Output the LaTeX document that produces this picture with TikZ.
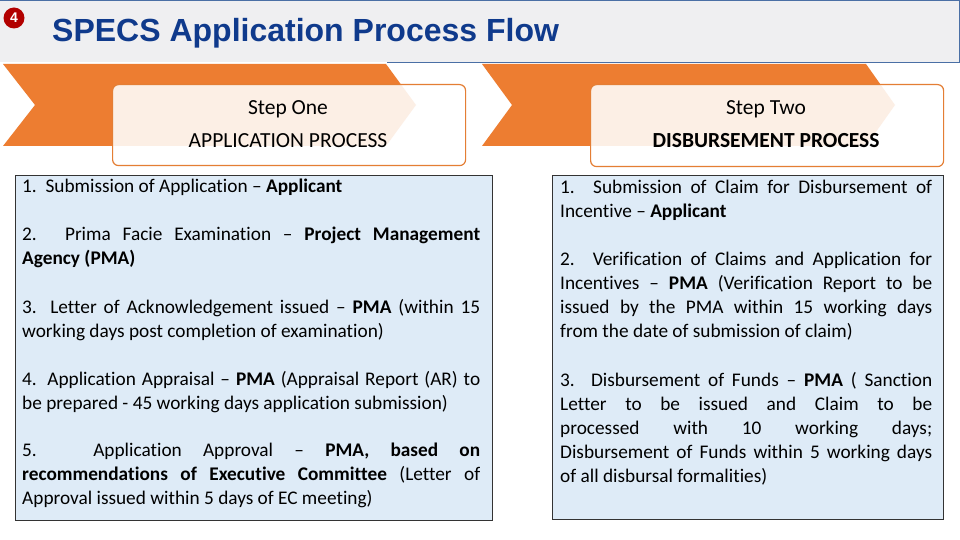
\documentclass[tikz,border=0pt]{standalone}
\usepackage{fontspec}
\setmainfont{Carlito}[Ligatures=NoCommon]
\newfontfamily\arialf{Liberation Sans}
\newlanguage\nohyphlang
\newcommand\itemsetup{\fontsize{19.3}{24}\selectfont\language\nohyphlang\hyphenpenalty=10000\relax\tolerance=9999\relax\emergencystretch=20pt\relax\hbadness=10000\relax\hfuzz=30pt\relax}
\definecolor{orng}{HTML}{ED7D31}
\definecolor{lblue}{HTML}{DEEBF7}
\definecolor{ttl}{HTML}{0F3A8C}
\definecolor{hdr}{HTML}{EFEFF1}
\definecolor{lineb}{HTML}{4A6FA5}
\tikzset{
  chev/.style={fill=orng, draw=none},
  stepbox/.style={draw=orng!80!brown, line width=1.2pt, rounded corners=6pt, fill=white, fill opacity=0.88},
  listbox/.style={draw=black!80, line width=0.8pt, fill=lblue},
  item/.style={anchor=north west, inner sep=0pt, align=justify, font=\itemsetup},
  steptxt/.style={font=\fontsize{21.5}{21.5}\selectfont},
}
\begin{document}
\begin{tikzpicture}[x=1pt,y=-1pt]
\useasboundingbox (0,0) rectangle (960,540);
\fill[white] (0,0) rectangle (960,540);
% header
\fill[hdr] (0,0) rectangle (960,62);
\draw[lineb, line width=0.8pt] (0,0.5) -- (959.5,0.5) -- (959.5,62) -- (387,62);
\node[circle, fill=red!70!black, minimum size=21pt, inner sep=0pt, text=white, font=\arialf\bfseries\fontsize{14}{14}\selectfont] (badge) at (14,18) {4};
\node[anchor=west, text=ttl, inner sep=0pt, font=\arialf\bfseries\fontsize{32}{32}\selectfont] (title) at (52,33) {SPECS Application Process Flow};
% chevrons
\path[chev] (3,64) -- (386,64) -- (416,105) -- (386,146) -- (3,146) -- (35,105) -- cycle;
\path[chev] (482,64) -- (866,64) -- (895,105) -- (866,146) -- (482,146) -- (512,105) -- cycle;
\node[stepbox, minimum width=353pt, minimum height=81pt, anchor=north west] (s1) at (112,84) {};
\node[stepbox, minimum width=353pt, minimum height=82pt, anchor=north west] (s2) at (590,84) {};
\node[steptxt] (s1a) at (288,109) {Step One};
\node[steptxt] (s1b) at (288,141) {APPLICATION PROCESS};
\node[steptxt] (s2a) at (766,109) {Step Two};
\node[steptxt] (s2b) at (766,141) {\bfseries DISBURSEMENT PROCESS};
% list boxes
\node[listbox, minimum width=477pt, minimum height=345pt, anchor=north west] (L) at (15,175) {};
\node[listbox, minimum width=391pt, minimum height=344pt, anchor=north west] (R) at (552,175) {};
\node[item, text width=458pt] (l1) at (22,179) {1.\ \ Submission of Application -- \textbf{Applicant}};
\node[item, text width=458pt] (l2) at (22,227) {2. Prima Facie Examination -- \textbf{Project Management\linebreak Agency (PMA)}};
\node[item, text width=458pt] (l3) at (22,299) {3. Letter of Acknowledgement issued -- \textbf{PMA} (within 15\linebreak working days post completion of examination)};
\node[item, text width=458pt] (l4) at (22,371) {4. Application Appraisal -- \textbf{PMA} (Appraisal Report (AR) to\linebreak be prepared - 45 working days application submission)};
\node[item, text width=458pt] (l5) at (22,443) {5. Application Approval -- \textbf{PMA, based on\linebreak recommendations of Executive Committee} (Letter of\linebreak Approval issued within 5 days of EC meeting)};
\node[item, text width=372pt] (r1) at (560,180) {1. Submission of Claim for Disbursement of\linebreak Incentive -- \textbf{Applicant}};
\node[item, text width=372pt] (r2) at (560,252) {2. Verification of Claims and Application for\linebreak Incentives -- \textbf{PMA} (Verification Report to be\linebreak issued by the PMA within 15 working days\linebreak from the date of submission of claim)};
\node[item, text width=372pt] (r3) at (560,372) {3. Disbursement of Funds -- \textbf{PMA} ( Sanction\linebreak Letter to be issued and Claim to be\linebreak processed with 10 working days;\linebreak Disbursement of Funds within 5 working days\linebreak of all disbursal formalities)};
\end{tikzpicture}
\end{document}
